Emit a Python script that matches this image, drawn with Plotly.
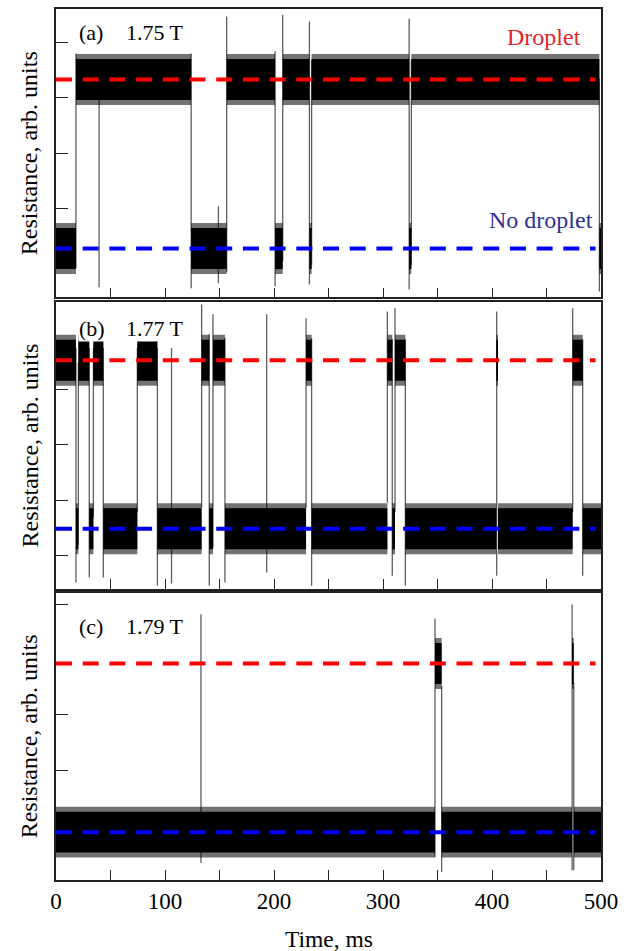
import plotly.graph_objects as go

# ---------------- data ----------------
# state levels: 0 = no droplet, 1 = droplet (arb. units)
LEVEL_NO_DROPLET = 0.0
LEVEL_DROPLET = 3.05

# panel (a) 1.75 T : telegraph segments
a_t0    = [0, 18.3, 124, 156.6, 201, 208, 232.5, 234.5, 324, 326, 498.5]
a_t1    = [18.3, 124, 156.6, 201, 208, 232.5, 234.5, 324, 326, 498.5, 500]
a_state = [0, 1, 0, 1, 0, 1, 0, 1, 0, 1, 0]
# transition / spike lines: time, lower end, upper end
a_sp_t  = [18.3, 39.5, 124, 149, 156.6, 201, 208, 232.5, 234.5, 324, 326, 498.5]
a_sp_lo = [-0.36, -0.70, -0.72, -0.63, -0.42, -0.69, -0.23, -0.65, -0.3, -0.74, -0.3, -0.78]
a_sp_hi = [3.52, 3.38, 3.52, 0.76, 4.19, 3.56, 4.22, 4.10, 3.4, 4.15, 3.4, 3.07]

# panel (b) 1.77 T
b_t0    = [0, 18.3, 20.5, 30.5, 34.3, 43.4, 74.6, 93, 133.6, 140.6, 144, 155,
           229.4, 234.5, 304, 308.5, 311, 320.5, 404, 405.5, 474, 483.2]
b_t1    = [18.3, 20.5, 30.5, 34.3, 43.4, 74.6, 93, 133.6, 140.6, 144, 155, 229.4,
           234.5, 304, 308.5, 311, 320.5, 404, 405.5, 474, 483.2, 500]
b_state = [1, 0, 1, 0, 1, 0, 1, 0, 1, 0, 1, 0,
           1, 0, 1, 0, 1, 0, 1, 0, 1, 0]
b_sp_t  = [18.3, 20.5, 30.5, 34.3, 43.4, 74.6, 93, 106, 133.6, 140.6, 144, 155,
           193.3, 229.4, 234.5, 304, 308.5, 311, 320.5, 404.3, 474, 483.2]
b_sp_lo = [-0.97, -0.3, -0.88, 0.2, -0.88, 0.3, -1.03, -0.99, 0.38, -1.03, -0.34, -0.97,
           -0.79, 0.38, -1.03, 0.47, -0.85, 0.3, -1.03, -0.85, 0.3, -0.85]
b_sp_hi = [3.27, 3.0, 3.27, 3.27, 3.27, 3.27, 3.27, 3.27, 4.06, 3.52, 3.88, 3.45,
           3.88, 3.81, 3.45, 3.93, 3.43, 3.99, 3.43, 3.93, 3.99, 3.43]

# panel (c) 1.79 T
c_t0    = [0, 347.7, 353.8, 473.5, 475]
c_t1    = [347.7, 353.8, 473.5, 475, 500]
c_state = [0, 1, 0, 1, 0]
c_sp_t  = [133, 347.7, 353.8, 473.5, 475]
c_sp_lo = [-0.56, -0.45, -0.72, -0.69, -0.69]
c_sp_hi = [3.94, 3.86, 2.65, 4.12, 2.7]

panel_field = ["1.75 T", "1.77 T", "1.79 T"]
panel_tag = ["(a)", "(b)", "(c)"]

# axes
x_tickvals = [0, 50, 100, 150, 200, 250, 300, 350, 400, 450, 500]
x_ticktext = ["0", "", "100", "", "200", "", "300", "", "400", "", "500"]
a_yticks = [0.72, 1.72, 2.72, 3.72]
b_yticks = [-0.48, 0.52, 1.52, 2.52]
c_yticks = [1.12, 2.12, 4.12]
a_yrange = [-0.883, 4.324]
b_yrange = [-1.083, 4.097]
c_yrange = [-0.866, 4.332]

# ---------------- figure ----------------
FONT = "Liberation Serif"
LEVELS = [LEVEL_NO_DROPLET, LEVEL_DROPLET]
CORE_HW = 0.37
FRINGE_HW = 0.46

fig = go.Figure()

panels = [
    (a_t0, a_t1, a_state, a_sp_t, a_sp_lo, a_sp_hi),
    (b_t0, b_t1, b_state, b_sp_t, b_sp_lo, b_sp_hi),
    (c_t0, c_t1, c_state, c_sp_t, c_sp_lo, c_sp_hi),
]

def polys(t0, t1, st, hw):
    xs, ys = [], []
    for a, b, s in zip(t0, t1, st):
        c = LEVELS[s]
        xs += [a, b, b, a, a, None]
        ys += [c - hw, c - hw, c + hw, c + hw, c - hw, None]
    return xs, ys

for i, (t0, t1, st, sp_t, sp_lo, sp_hi) in enumerate(panels):
    xa = "x" if i == 0 else f"x{i+1}"
    ya = "y" if i == 0 else f"y{i+1}"
    # spikes / transitions
    xs, ys = [], []
    for t, lo, hi in zip(sp_t, sp_lo, sp_hi):
        xs += [t, t, None]
        ys += [lo, hi, None]
    fig.add_trace(go.Scatter(x=xs, y=ys, mode="lines", xaxis=xa, yaxis=ya,
                             line=dict(color="rgb(95,95,95)", width=1.3),
                             hoverinfo="skip", showlegend=False))
    # noisy band fringe
    xs, ys = polys(t0, t1, st, FRINGE_HW)
    fig.add_trace(go.Scatter(x=xs, y=ys, mode="lines", fill="toself",
                             fillcolor="rgba(0,0,0,0.55)", line=dict(width=0),
                             xaxis=xa, yaxis=ya, hoverinfo="skip", showlegend=False))
    # noisy band core
    xs, ys = polys(t0, t1, st, CORE_HW)
    fig.add_trace(go.Scatter(x=xs, y=ys, mode="lines", fill="toself",
                             fillcolor="black", line=dict(width=0),
                             xaxis=xa, yaxis=ya, hoverinfo="skip", showlegend=False))
    # level guides
    fig.add_trace(go.Scatter(x=[0, 495], y=[LEVEL_DROPLET] * 2, mode="lines",
                             line=dict(color="#ff0000", width=4, dash="16px,10.7px"),
                             xaxis=xa, yaxis=ya, hoverinfo="skip", showlegend=False))
    fig.add_trace(go.Scatter(x=[0, 495], y=[LEVEL_NO_DROPLET] * 2, mode="lines",
                             line=dict(color="#0000ff", width=4, dash="16px,10.7px"),
                             xaxis=xa, yaxis=ya, hoverinfo="skip", showlegend=False))

domains = [[0.669, 1.0], [0.3345, 0.6632], [0.0, 0.3299]]
yticks = [a_yticks, b_yticks, c_yticks]
yranges = [a_yrange, b_yrange, c_yrange]

axis_common = dict(showline=True, mirror=True, linecolor="#222", linewidth=1.5,
                   showgrid=False, zeroline=False, ticks="inside",
                   tickcolor="#222", tickwidth=1.2)

layout = dict(
    width=630, height=951,
    margin=dict(l=56, r=29, t=7, b=71),
    paper_bgcolor="white", plot_bgcolor="white",
    showlegend=False,
    font=dict(family=FONT, color="black"),
)
for i in range(3):
    xk = "xaxis" if i == 0 else f"xaxis{i+1}"
    yk = "yaxis" if i == 0 else f"yaxis{i+1}"
    ya = "y" if i == 0 else f"y{i+1}"
    xa = "x" if i == 0 else f"x{i+1}"
    layout[xk] = dict(axis_common, domain=[0, 1], anchor=ya, range=[0, 500],
                      tickvals=x_tickvals, ticktext=x_ticktext, ticklen=10,
                      showticklabels=(i == 2),
                      tickfont=dict(family=FONT, size=23, color="black"))
    layout[yk] = dict(axis_common, domain=domains[i], anchor=xa, range=yranges[i],
                      tickvals=yticks[i], ticklen=12, showticklabels=False)
fig.update_layout(**layout)

ann = []
label_y = [0.917, 0.909, 0.882]
for i in range(3):
    yref = "y domain" if i == 0 else f"y{i+1} domain"
    ann.append(dict(text=panel_tag[i], xref="paper", yref=yref, x=0.0404, y=label_y[i],
                    xanchor="left", yanchor="middle", showarrow=False, bgcolor="white",
                    borderpad=0,
                    font=dict(family=FONT, size=22, color="black")))
    ann.append(dict(text=panel_field[i], xref="paper", yref=yref, x=0.1266, y=label_y[i],
                    xanchor="left", yanchor="middle", showarrow=False, bgcolor="white",
                    borderpad=0,
                    font=dict(family=FONT, size=22, color="black")))
    ann.append(dict(text="Resistance, arb. units", xref="paper", yref=yref,
                    x=-0.0495, y=0.5, textangle=-90, xanchor="center", yanchor="middle",
                    showarrow=False, font=dict(family=FONT, size=24, color="black")))
ann.append(dict(text="Droplet", xref="paper", yref="y domain", x=(505 - 56) / 545,
                y=(296 - 35) / 289, xanchor="left", yanchor="middle", showarrow=False,
                font=dict(family=FONT, size=24, color="#e3262b")))
ann.append(dict(text="No droplet", xref="paper", yref="y domain", x=(487 - 56) / 545,
                y=(296 - 219) / 289, xanchor="left", yanchor="middle", showarrow=False,
                font=dict(family=FONT, size=24, color="#2e3192")))
ann.append(dict(text="Time, ms", xref="paper", yref="paper", x=0.5,
                y=(880 - 939) / 873, xanchor="center", yanchor="middle", showarrow=False,
                font=dict(family=FONT, size=23.5, color="black")))
fig.update_layout(annotations=ann)

fig.write_html("out.html", config={"displayModeBar": False},
               post_script="document.body.style.margin='0px';document.body.style.overflow='hidden';")
